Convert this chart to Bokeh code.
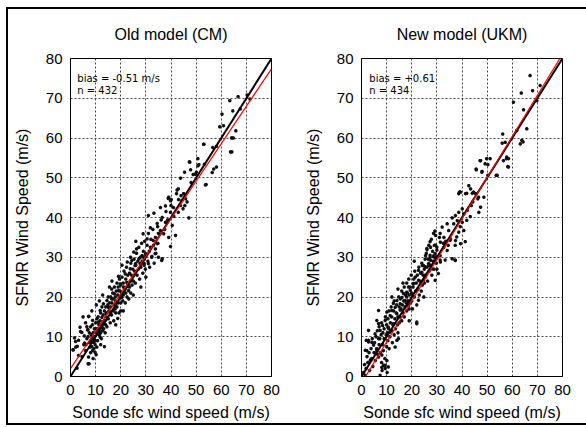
from bokeh.plotting import figure
from bokeh.layouts import row
from bokeh.models import Label, Range1d, FixedTicker, InlineStyleSheet
from bokeh.embed import file_html
from bokeh.resources import INLINE

axis_ticks = [0, 10, 20, 30, 40, 50, 60, 70, 80]

# Old model (CM): (sonde sfc wind speed, SFMR wind speed)
cm_points = [
    (1.1, 6.7), (2.1, 7.4), (3.2, 9.1), (4.5, 11.1), (6.8, 11.7), (7.8, 7.4), (6.5, 9.5), (5.6, 8.4),
    (8.5, 9.7), (9.2, 8.6), (8.8, 6.5), (9.8, 6.1), (10.5, 7.4), (7.4, 3.2), (10.9, 10.7), (11.8, 9.9),
    (9.8, 12), (12.5, 12.4), (11.1, 13.7), (8.8, 14.1), (7.2, 15.1), (12.5, 14.9), (13.8, 14.1), (14.1, 15.8),
    (11.8, 16.6), (15.1, 17.4), (13.1, 18.3), (14.5, 19.1), (16.4, 19.5), (15.8, 16.2), (17.8, 17), (18.4, 18.7),
    (17.5, 20.8), (19.1, 21.6), (20.4, 19.9), (16.4, 22), (19.8, 23.3), (21.1, 22.5), (22.4, 23.7), (23.1, 21.6),
    (19.1, 25.2), (21.8, 25.8), (23.8, 27.1), (25.1, 25.4), (25.7, 27.9), (27.7, 28.4), (29.1, 30), (32.4, 30.2),
    (33.7, 30.9), (36.3, 29.2), (31, 28.4), (24.4, 29.2), (18.8, 14.6), (7.2, 4.9), (3.2, 5.3), (3.8, 12.4),
    (1.6, 9.7), (2, 8.8), (1, 6.7), (2.7, 7.6), (4, 11.3), (5.3, 8), (6.9, 11.8), (7.3, 15.1), (7, 3.2),
    (2.6, 2.1), (4.6, 5),
    (5.5, 10.2), (6, 6.5), (6.2, 8), (6.5, 12.5), (7, 10), (7.5, 8.5), (7.5, 11), (8, 6), (8, 9), (8, 12.5),
    (8.2, 10.5), (8.5, 7.5), (8.7, 13), (9, 11), (9, 9.5), (9.3, 7), (9.5, 12), (9.5, 10), (9.8, 8), (10, 13.5),
    (10, 11), (10, 9), (10.2, 5.5), (6, 13.5), (5, 15), (8.5, 16.5), (9, 4.5),
    (10.5, 12), (10.5, 14.5), (10.8, 9), (11, 11.5), (11, 15), (11.3, 13), (11.5, 10.5), (11.5, 12), (11.8, 14),
    (12, 11), (12, 13), (12, 16), (12.3, 9.5), (12.5, 17.5), (12.8, 11.5), (13, 13.5), (13, 15.5), (13.2, 12),
    (13.5, 16.5), (13.5, 14), (13.8, 11), (14, 13), (14, 17.5), (14.2, 15), (14.5, 12.5), (14.5, 16), (14.8, 18),
    (15, 14.5), (15, 20), (10.3, 18), (11.5, 19), (12.8, 20.5), (13.5, 7.5), (12, 8),
    (15.3, 16.5), (15.5, 18.5), (15.8, 13.5), (16, 17.5), (16, 20), (16.3, 15.5), (16.5, 18.5), (16.8, 21),
    (17, 16.5), (17, 19.5), (17.2, 14), (17.5, 18), (17.5, 22.5), (17.8, 20), (18, 16), (18, 19), (18.2, 21.5),
    (18.5, 17.5), (18.5, 23.5), (18.8, 20.5), (19, 18.5), (19, 22.5), (19.3, 16), (19.5, 20), (19.5, 24.5),
    (19.8, 21.5), (20, 18.5), (20, 23), (20, 16.5), (16.5, 24), (15.5, 22.5), (18, 13),
    (20.3, 21), (20.5, 25), (20.8, 19), (21, 23.5), (21, 20.5), (21.3, 26.5), (21.5, 22), (21.8, 18.5), (22, 24.5),
    (22, 21), (22.3, 27.5), (22.5, 20), (22.8, 25.5), (23, 23), (23.2, 19.5), (23.5, 26), (23.5, 22.5), (23.8, 24),
    (24, 21), (24, 28.5), (24.3, 25.5), (24.5, 23), (24.8, 27), (25, 20.5), (25, 24), (20.5, 28), (21, 16.5),
    (25.3, 29.5), (25.5, 26.5), (25.8, 23.5), (26, 28), (26.3, 31), (26.5, 25.5), (26.8, 29), (27, 27), (27.2, 32.5),
    (27.5, 24.5), (27.8, 30), (28, 27.5), (28.3, 33.5), (28.5, 29), (28.8, 26), (29, 31.5), (29.3, 28), (29.5, 34),
    (29.8, 27), (30, 30.5), (30, 25), (26, 34), (28, 22.5),
    (30.5, 33), (30.8, 29), (31, 36), (31.3, 31.5), (31.5, 27.5), (32, 34.5), (32.3, 30), (32.8, 37), (33, 33),
    (33.3, 28.5), (33.8, 35), (34, 31), (34.5, 38.5), (34.8, 33.5), (35, 30), (35, 36), (31, 40.5),
    (35.8, 42.5), (37.8, 42.9), (38.9, 44.8), (39.8, 44.2), (42.4, 46.9), (42.9, 47.2), (42.2, 46), (39.1, 45.1),
    (40.1, 44.5), (44.4, 44.3), (45.8, 44.7), (46.4, 43.9), (43.8, 43), (44.8, 42.2), (42.9, 41.3), (47.1, 39.9),
    (39.8, 41.3), (41.1, 40.3), (38.7, 39.4), (37.8, 38.8), (36.1, 39.4), (33.2, 41.1), (34.7, 37.7), (31.8, 37.4),
    (35.8, 36.7), (37.1, 35.9), (39.1, 35), (41.8, 35.5), (32.9, 34.2), (34.5, 33.4), (30.5, 34.6), (28.9, 35.9),
    (31.8, 32.5), (33.8, 32.1), (39.8, 32.7), (36.5, 29.6), (29.9, 30.9), (26.3, 32.1), (25.2, 31.3), (28.5, 30.4),
    (23.9, 30), (27.2, 29.6), (22.6, 28.8), (25.9, 28.4), (29.2, 28.4),
    (36.5, 40), (37.5, 37), (38, 41.5), (40.5, 38), (41, 42.5), (43, 44.5), (44, 45.5), (45, 46), (45.5, 43), (40, 43),
    (45.4, 51.4), (47.8, 52), (48.8, 50.8), (50.1, 51.4), (54, 48.3), (47.5, 53.9), (50.7, 54.8), (51.1, 53.3),
    (53.1, 58.4), (58.1, 57.9), (47.3, 54), (50.7, 53), (49.7, 50.9), (48, 48.8), (53.7, 48.2), (43.8, 49.9),
    (53.3, 53.4),
    (56.4, 51.3), (57, 52.2), (58.1, 52.7), (56.6, 57.6), (53, 58.4), (63.7, 56.5), (64.2, 56.5), (64.8, 60),
    (64.1, 60), (65.8, 61.8), (59.4, 62.8), (60.9, 63.1), (60.3, 66), (64.6, 66.8), (67.6, 67.3), (63.4, 69.4),
    (66.7, 70.4), (70.3, 70.8), (71.4, 69.8),
]

# New model (UKM)
ukm_points = [
    (1.9, 9.1), (2.8, 8.7), (1.5, 6.6), (4.8, 7.9), (3.5, 4.1), (8.1, 5.4), (8.8, 2.8), (9.4, 2), (10.7, 2.4),
    (7.4, 0.3), (6.8, 13.3), (11.4, 11.2), (12.7, 13.3), (14.1, 9.1), (12.7, 18.4), (14.1, 15.8), (15.4, 16.7),
    (12.1, 20), (16.7, 20.9), (18, 20), (18.7, 17.9), (19.4, 21.7), (20.7, 23.4), (22, 13.3), (22.7, 19.2),
    (24.7, 24.2), (22.7, 26.7), (25.3, 27.6), (26, 32.2), (28.7, 30.1), (30, 31.8), (31.3, 29.3), (30.6, 25.9),
    (29.3, 24.2), (32.6, 33.5), (33.3, 29.3), (35.3, 34.3), (37.9, 35.1), (37.3, 33), (39.3, 37.7), (41.3, 33.9),
    (37.3, 29.3), (41.9, 39.3), (43.3, 40.2), (31.3, 36), (28.7, 36), (27.3, 33.9),
    (1.5, 0.3), (2.1, 6.5), (2.8, 9.1), (4.1, 8.6), (6.1, 6.5), (6.8, 4.9), (8.1, 2.3), (9.4, 2.8), (10.1, 4),
    (5.4, 10.7), (6.8, 9.5), (7.4, 11.6), (8.4, 12.8), (9.4, 14.1), (10.7, 12.4), (11.4, 15.3), (12.1, 16.6),
    (10.1, 16.2), (13.4, 17.4), (14.1, 19.1), (15.4, 18.3), (16.1, 19.9), (17.4, 19.1), (18, 21.2), (18.7, 22.5),
    (20, 20.8), (20.7, 23.3), (22, 21.6), (21.4, 25), (22.7, 24.2), (24, 26.2), (25.4, 25), (24.7, 27.9),
    (26.7, 28.4), (28, 27.1), (27.3, 30), (29.3, 30.9), (31.3, 30.4), (37.3, 29.2), (22, 13.7), (13.4, 7.4),
    (14.7, 9.5), (2.8, 11.6), (6.8, 16.6), (6.1, 14.1),
    (0.8, 1), (1.2, 3), (1.8, 2), (2.2, 5), (2.5, 3.5), (3, 6), (3.2, 1.5), (3.8, 7), (4, 4.5), (4.3, 9.5),
    (4.5, 2.5), (5, 6),
    (5.2, 8.5), (5.5, 4), (5.8, 10), (6, 7), (6.3, 11.5), (6.5, 5.5), (7, 8), (7, 12.5), (7.3, 9.5), (7.5, 6),
    (7.8, 10.5), (8, 3.5), (8, 13.5), (8.3, 8), (8.5, 11), (8.7, 6.5), (9, 9.5), (9, 12), (9.3, 4.5), (9.5, 15),
    (9.8, 10.5), (10, 7.5), (10, 13), (10.2, 1), (8.2, 1.5),
    (10.3, 11), (10.5, 9), (10.5, 14.5), (10.8, 12), (11, 16.5), (11, 7), (11.3, 10), (11.5, 13.5), (11.8, 17.5),
    (12, 11.5), (12, 15), (12.3, 8.5), (12.5, 13), (12.8, 16.5), (13, 10.5), (13, 19), (13.3, 14.5), (13.5, 12),
    (13.8, 16), (14, 18), (14.3, 13), (14.5, 11), (14.5, 15), (14.8, 20), (15, 13.5), (15, 17.5),
    (15.3, 15), (15.5, 19.5), (15.8, 17), (16, 14), (16, 21.5), (16.3, 18), (16.5, 16), (16.8, 19), (17, 22.5),
    (17, 15), (17.3, 17.5), (17.5, 20.5), (17.8, 18.5), (18, 23.5), (18, 16.5), (18.3, 21), (18.5, 19),
    (18.8, 24.5), (19, 17), (19, 20.5), (19.3, 22.5), (19.5, 18.5), (19.8, 25.5), (20, 21), (20, 19),
    (16.5, 23.5), (14.5, 22), (19, 14),
    (20.3, 17), (20.5, 22.5), (20.8, 24.5), (21, 20), (21.2, 26.5), (21.5, 21.5), (21.8, 23.5), (22, 18),
    (22.2, 25.5), (22.5, 22), (22.8, 27.5), (23, 20.5), (23.2, 24), (23.5, 26), (23.8, 21.5), (24, 28.5),
    (24.2, 23), (24.5, 25.5), (24.8, 20), (25, 27), (25, 23.5), (21, 29),
    (25.3, 29.5), (25.5, 25.5), (25.8, 31), (26, 27.5), (26.3, 24), (26.5, 29.5), (26.8, 33), (27, 26.5),
    (27.3, 30.5), (27.5, 28), (27.8, 34.5), (28, 25.5), (28.3, 31.5), (28.5, 29), (28.8, 27), (29, 33),
    (29.3, 30), (29.5, 35.5), (29.8, 28.5), (30, 32.5), (30, 27),
    (29.2, 36.6), (34.7, 36.7), (32.8, 35), (35.4, 34.6), (31.4, 33.8), (29.5, 33), (27.5, 32.5), (26.1, 31.9),
    (32.8, 32.5), (34.1, 31.7), (36.1, 29.6), (28.8, 30.4), (30.1, 30), (25.5, 30.4), (27.5, 29.2), (31.4, 28.8),
    (24.2, 27.9), (26.8, 27.9), (32.1, 37.6), (34.1, 38.4), (31, 35), (33.5, 34), (34.5, 33),
    (42.7, 48), (43.4, 47.2), (39.4, 46.4), (38.7, 46), (41.4, 46), (44.1, 46.1), (45.4, 46), (46.3, 44.7),
    (48.7, 45.1), (44.3, 43.9), (43.7, 43), (47.4, 42.6), (46.7, 41.3), (42.1, 41.8), (40.1, 42.2), (40.7, 40.9),
    (38.7, 41.3), (37.4, 40.5), (36.1, 39.9), (38.1, 39.2), (40.1, 38.8), (36.7, 38.4), (37.4, 34.2), (39.4, 33.4),
    (38.7, 36.3), (40.7, 36.7), (39, 46.4), (41.9, 46.1), (44.6, 46.4), (46.6, 45.1),
    (45.7, 52), (48, 51.6), (54, 50.6), (50.3, 50.6), (47.4, 54.3), (49.8, 54.8), (50.3, 53.3), (57.7, 54.8),
    (58.2, 52.8), (56, 58.7), (47.2, 54.3), (49.2, 53.5), (45.6, 52.2), (47.9, 51.4), (51.2, 54.8), (53.6, 50.6),
    (56.2, 61), (57.2, 58.9), (57.8, 55.2), (56.5, 54.3), (58.5, 54.8), (58.5, 52.7),
    (67.1, 75.7), (68.1, 71.9), (63.6, 71.3), (71.1, 73.2), (69.8, 69.4), (60.5, 69), (64.5, 67.1), (65.8, 62.3),
    (61.8, 61.9), (63.8, 59.4), (63.2, 58.5), (64.3, 59),
]

one_to_one_x = [0, 80]
cm_fit = (2.0, 0.9425)     # intercept, slope of the red regression line
ukm_fit = (-1.65, 1.034)
cm_stats = ["bias = -0.51 m/s", "n = 432"]
ukm_stats = ["bias = +0.61", "n = 434"]

HELV = "Liberation Sans"


def panel(title, pts, fit, stats, border_left, border_right, stat_x):
    p = figure(title=title, frame_width=201, frame_height=318,
               min_border_left=border_left, min_border_right=border_right,
               min_border_top=58, min_border_bottom=51,
               x_range=Range1d(0, 80), y_range=Range1d(0, 80),
               output_backend="svg", toolbar_location=None)
    p.title.text_font = HELV
    p.title.text_font_size = "16px"
    p.title.text_font_style = "normal"
    p.title.align = "center"
    p.title.text_color = "black"
    p.title.standoff = 32

    for ax in (p.xaxis, p.yaxis):
        ax.ticker = FixedTicker(ticks=axis_ticks)
        ax.major_label_text_font = HELV
        ax.major_label_text_font_size = "15px"
        ax.major_label_text_color = "black"
        ax.axis_label_text_font = HELV
        ax.axis_label_text_font_size = "16px"
        ax.axis_label_text_font_style = "normal"
        ax.axis_label_text_color = "black"
        ax.major_tick_in = 0
        ax.major_tick_out = 0
        ax.minor_tick_in = 0
        ax.minor_tick_out = 0
        ax.axis_line_color = "black"
        ax.major_label_standoff = 8
    p.xaxis.axis_label = "Sonde sfc wind speed (m/s)"
    p.yaxis.axis_label = "SFMR Wind Speed (m/s)"
    p.xaxis.axis_label_standoff = 6
    p.yaxis.axis_label_standoff = 12

    p.grid.grid_line_color = "#333333"
    p.grid.grid_line_dash = "2 2"
    p.grid.grid_line_alpha = 0.9
    p.outline_line_color = "black"
    p.outline_line_width = 1
    p.background_fill_color = "white"
    p.border_fill_color = None

    xs = [q[0] for q in pts]
    ys = [q[1] for q in pts]
    p.scatter(xs, ys, marker="asterisk", size=3.5, line_color="#111111", line_width=1.1)

    p.line(one_to_one_x, one_to_one_x, line_color="black", line_width=2)
    b, m = fit
    p.line(one_to_one_x, [b + m * v for v in one_to_one_x], line_color="red", line_width=1.2)

    p.add_layout(Label(x=stat_x, y=73.6, text=stats[0], text_font="DejaVu Sans",
                       text_font_size="10px", text_color="black"))
    p.add_layout(Label(x=stat_x, y=70.6, text=stats[1], text_font="DejaVu Sans",
                       text_font_size="10px", text_color="black"))
    return p


p1 = panel("Old model (CM)", cm_points, cm_fit, cm_stats, 70, 22, 2.7)
p2 = panel("New model (UKM)", ukm_points, ukm_fit, ukm_stats, 68, 24, 3.1)

# outer frame of the figure: top and bottom bars (::before + its shadow), left bar (::after)
frame_css = InlineStyleSheet(css="""
:host::before {
  content: "";
  position: absolute;
  left: 6px; top: 7px; width: 580px; height: 2px;
  background: black;
  border: 0; outline: 0;
  box-shadow: 0 416px 0 0 black;
  pointer-events: none;
}
:host::after {
  content: "";
  position: absolute;
  left: 6px; top: 7px; width: 2px; height: 418px;
  background: black;
  border: 0; outline: 0; box-shadow: none;
  pointer-events: none;
}
""")

layout = row(p1, p2, stylesheets=[frame_css])

open("out.html", "w").write(file_html(layout, INLINE))
